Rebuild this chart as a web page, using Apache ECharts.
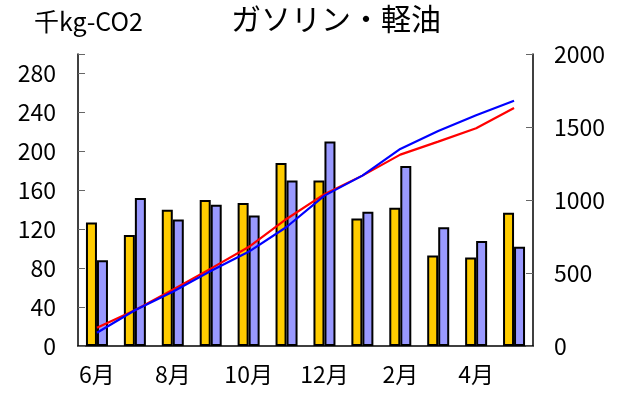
<!DOCTYPE html>
<html>
<head>
<meta charset="utf-8">
<script src="https://cdn.jsdelivr.net/npm/echarts@6/dist/echarts.min.js"></script>
<style>
  html, body { margin: 0; padding: 0; background: #fff; }
  #main { width: 620px; height: 402px; }
</style>
</head>
<body>
<div id="main"></div>
<script>
const months = ['6月', '7月', '8月', '9月', '10月', '11月', '12月', '1月', '2月', '3月', '4月', '5月']
const gasoline = [127, 114, 140, 150, 147, 188, 170, 131, 142, 93, 91, 137]
const diesel = [88, 152, 130, 145, 134, 170, 210, 138, 185, 122, 108, 102]
const gasolineTotal = [125, 245, 385, 530, 678, 870, 1040, 1167, 1311, 1400, 1492, 1630]
const dieselTotal = [91, 245, 372, 514, 645, 815, 1030, 1167, 1350, 1472, 1580, 1680]

const font = '"Noto Sans CJK JP", "Noto Sans", sans-serif'
const chart = echarts.init(document.getElementById('main'))
const option = {
  animation: false,
  textStyle: { fontFamily: font },
  graphic: [
    {
      type: 'text', left: 34, top: 9,
      style: { text: '千kg-CO2', font: '25px ' + font, fill: '#000' }
    },
    {
      type: 'text', left: 231, top: 4,
      style: { text: 'ガソリン・軽油', font: '30px ' + font, fill: '#000' }
    }
  ],
  grid: { left: 78, right: 87, top: 54, bottom: 56 },
  xAxis: {
    type: 'category',
    data: months,
    axisLine: { lineStyle: { color: '#000', width: 1.5 } },
    axisTick: { inside: true, length: 5, interval: 0, lineStyle: { color: '#666' } },
    axisLabel: { interval: 1, margin: 17, fontSize: 23, color: '#000', fontFamily: font }
  },
  yAxis: [
    {
      type: 'value', min: 0, max: 300, interval: 40,
      splitLine: { show: false },
      axisLine: { show: true, lineStyle: { color: '#000', width: 1.5 } },
      axisTick: { show: true, inside: true, length: 7, lineStyle: { color: '#666' } },
      axisLabel: {
        margin: 22, fontSize: 23, color: '#000', fontFamily: font,
        formatter: v => (v > 280 ? '' : String(v))
      }
    },
    {
      type: 'value', min: 0, max: 2000, interval: 500,
      splitLine: { show: false },
      axisLine: { show: true, lineStyle: { color: '#000', width: 1.5 } },
      axisTick: { show: true, inside: true, length: 7, lineStyle: { color: '#666' } },
      axisLabel: {
        margin: 21, fontSize: 23, color: '#000', fontFamily: font,
        formatter: v => String(v)
      }
    }
  ],
  series: [
    {
      name: 'ガソリン', type: 'bar', data: gasoline,
      barWidth: 11, barGap: '0%',
      itemStyle: { color: '#FFCC00', borderColor: '#000', borderWidth: 2 }
    },
    {
      name: '軽油', type: 'bar', data: diesel,
      barWidth: 11,
      itemStyle: { color: '#9999FF', borderColor: '#000', borderWidth: 2 }
    },
    {
      name: 'ガソリン累計', type: 'line', yAxisIndex: 1, data: gasolineTotal,
      symbol: 'none', z: 5,
      lineStyle: { color: '#FF0000', width: 2.2 }
    },
    {
      name: '軽油累計', type: 'line', yAxisIndex: 1, data: dieselTotal,
      symbol: 'none', z: 5,
      lineStyle: { color: '#0000FF', width: 2.2 }
    }
  ]
}
chart.setOption(option)
</script>
</body>
</html>
